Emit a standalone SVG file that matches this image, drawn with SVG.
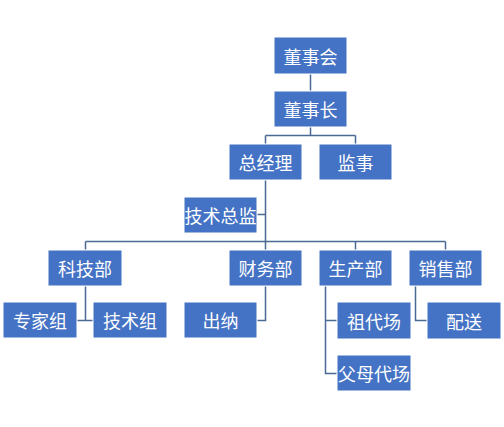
<svg xmlns="http://www.w3.org/2000/svg" width="504" height="427" viewBox="0 0 504 427">
<style>
.b{fill:#4472C4;stroke:#ffffff;stroke-width:1}
.t{fill:#ffffff;font-family:"Noto Sans CJK SC","Microsoft YaHei",sans-serif;font-size:18px;text-anchor:middle;dominant-baseline:central}
.c{fill:none;stroke:#4A6A95;stroke-width:1.5}
</style>
<rect width="504" height="427" fill="#ffffff"/>
<g id="connectors">
<path class="c" d="M310.5 74V91"/>
<path class="c" d="M310.5 127V135.5M265.5 135.5H355.5M265.5 135.5V144M355.5 135.5V144"/>
<path class="c" d="M265.5 180V241.5M257 214.5H265.5"/>
<path class="c" d="M85.5 241.5H445.5M85.5 241.5V250M265.5 241.5V250M355.5 241.5V250M445.5 241.5V250"/>
<path class="c" d="M85.5 286V320.5M77 320.5H93"/>
<path class="c" d="M265.5 286V320.5H257"/>
<path class="c" d="M325.5 286V373.5H337M325.5 320.5H337"/>
<path class="c" d="M415.5 286V320.5H427"/>
</g>
<g id="n1"><rect class="b" x="274" y="37" width="73" height="37"/><text class="t" x="310.5" y="55.5">董事会</text></g>
<g id="n2"><rect class="b" x="274" y="91" width="73" height="36"/><text class="t" x="310.5" y="109">董事长</text></g>
<g id="n3"><rect class="b" x="229" y="144" width="73" height="36"/><text class="t" x="265.5" y="162">总经理</text></g>
<g id="n4"><rect class="b" x="319" y="144" width="73" height="36"/><text class="t" x="355.5" y="162">监事</text></g>
<g id="n5"><rect class="b" x="184" y="197" width="73" height="36"/><text class="t" x="220.5" y="215">技术总监</text></g>
<g id="n6"><rect class="b" x="48" y="250" width="74" height="36"/><text class="t" x="85" y="268">科技部</text></g>
<g id="n7"><rect class="b" x="229" y="250" width="73" height="36"/><text class="t" x="265.5" y="268">财务部</text></g>
<g id="n8"><rect class="b" x="319" y="250" width="73" height="36"/><text class="t" x="355.5" y="268">生产部</text></g>
<g id="n9"><rect class="b" x="409" y="250" width="73" height="36"/><text class="t" x="445.5" y="268">销售部</text></g>
<g id="n10"><rect class="b" x="3" y="302" width="74" height="36"/><text class="t" x="40" y="320">专家组</text></g>
<g id="n11"><rect class="b" x="93" y="302" width="74" height="36"/><text class="t" x="130" y="320">技术组</text></g>
<g id="n12"><rect class="b" x="184" y="302" width="73" height="36"/><text class="t" x="220.5" y="320">出纳</text></g>
<g id="n13"><rect class="b" x="337" y="302" width="74" height="37"/><text class="t" x="374" y="320.5">祖代场</text></g>
<g id="n14"><rect class="b" x="337" y="355" width="74" height="36"/><text class="t" x="374" y="373">父母代场</text></g>
<g id="n15"><rect class="b" x="427" y="302" width="74" height="37"/><text class="t" x="464" y="320.5">配送</text></g>
</svg>
